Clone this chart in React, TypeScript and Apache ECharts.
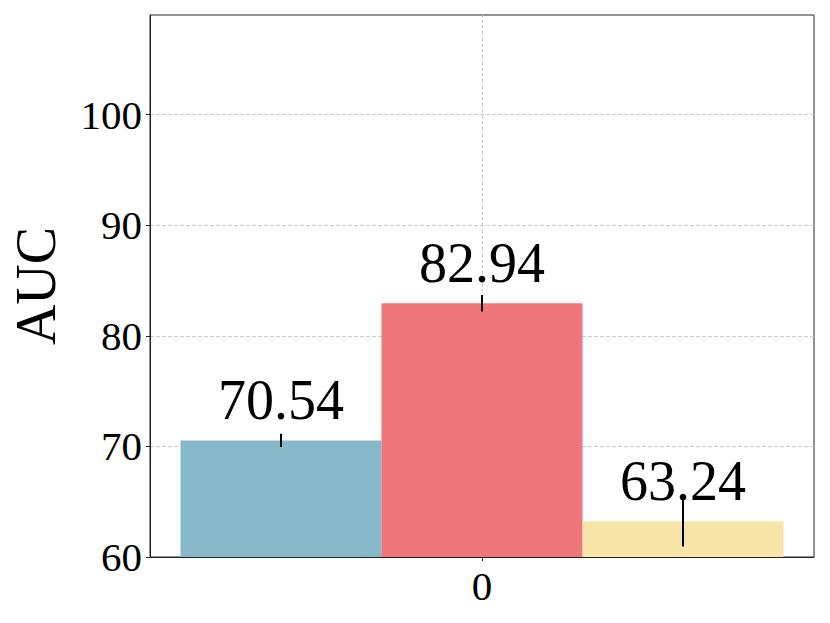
import React, { useEffect, useRef } from "react";
import * as echarts from "echarts";

const categories = ["0"];
const seriesNames = ["A", "B", "C"];
const means = [70.54, 82.94, 63.24];
const errors = [0.6, 0.75, 2.3];
const colors = ["#87B9CB", "#EF767A", "#F7E6A7"];
const yTicks = [60, 70, 80, 90, 100];
const yMin = 60;
const yMax = 109;
const yInterval = 10;

const FONT = "'Liberation Serif', 'Times New Roman', serif";
const BAR_W = 201;

export default function App() {
  const ref = useRef<HTMLDivElement>(null);
  useEffect(() => {
    if (!ref.current) return;
    const chart = echarts.init(ref.current, undefined, { renderer: "svg" });
    const n = means.length;
    const barSeries = means.map((m, i) => ({
      name: seriesNames[i],
      type: "bar",
      data: [m],
      barWidth: BAR_W,
      barGap: "0%",
      z: 2,
      itemStyle: { color: colors[i] },
      label: {
        show: true,
        position: "top",
        distance: 12,
        fontSize: 56,
        fontFamily: FONT,
        color: "#000",
        formatter: (p: any) => p.value.toFixed(2),
      },
    }));
    const errSeries = means.map((m, i) => ({
      name: "err" + i,
      type: "custom",
      z: 5,
      data: [[0, m - errors[i], m + errors[i]]],
      renderItem: (params: any, api: any) => {
        const lo = api.coord([api.value(0), api.value(1)]);
        const hi = api.coord([api.value(0), api.value(2)]);
        const off = (i - (n - 1) / 2) * BAR_W;
        return {
          type: "line",
          shape: { x1: lo[0] + off, y1: lo[1], x2: hi[0] + off, y2: hi[1] },
          style: { stroke: "#000", lineWidth: 2 },
        };
      },
    }));
    chart.setOption({
      animation: false,
      grid: {
        left: 150,
        right: 16,
        top: 15,
        bottom: 66,
        show: true,
        borderColor: "#222",
        borderWidth: 1,
        backgroundColor: "transparent",
      },
      xAxis: {
        type: "category",
        data: categories,
        boundaryGap: true,
        axisLine: { show: true, lineStyle: { color: "#222", width: 1 } },
        axisTick: { show: true, alignWithLabel: true, length: 4, lineStyle: { color: "#222" } },
        axisLabel: { fontSize: 41, fontFamily: FONT, color: "#000", margin: 8 },
        splitLine: { show: false },
      },
      yAxis: {
        type: "value",
        min: yMin,
        max: yMax,
        interval: yInterval,
        name: "AUC",
        nameLocation: "middle",
        nameRotate: 90,
        nameGap: 86,
        nameTextStyle: { fontSize: 56, fontFamily: FONT, color: "#000" },
        axisLine: { show: true, lineStyle: { color: "#222", width: 1 } },
        axisTick: { show: true, length: 4, customValues: yTicks, lineStyle: { color: "#222" } },
        axisLabel: {
          fontSize: 41,
          fontFamily: FONT,
          color: "#000",
          margin: 8,
          customValues: yTicks,
          formatter: (v: number) => (yTicks.indexOf(v) >= 0 ? String(v) : ""),
        },
        splitLine: { show: true, lineStyle: { color: "#cccccc", type: "dashed", width: 1 } },
      },
      series: [
        {
          name: "vgrid",
          type: "line",
          data: [],
          z: 1,
          silent: true,
          markLine: {
            silent: true,
            z: 1,
            symbol: "none",
            label: { show: false },
            lineStyle: { color: "#cccccc", type: "dashed", width: 1 },
            data: [{ xAxis: 0 }],
          },
        },
        ...barSeries,
        ...errSeries,
      ],
    });
    return () => chart.dispose();
  }, []);
  return <div ref={ref} style={{ width: 830, height: 623, margin: -8 }} />;
}
